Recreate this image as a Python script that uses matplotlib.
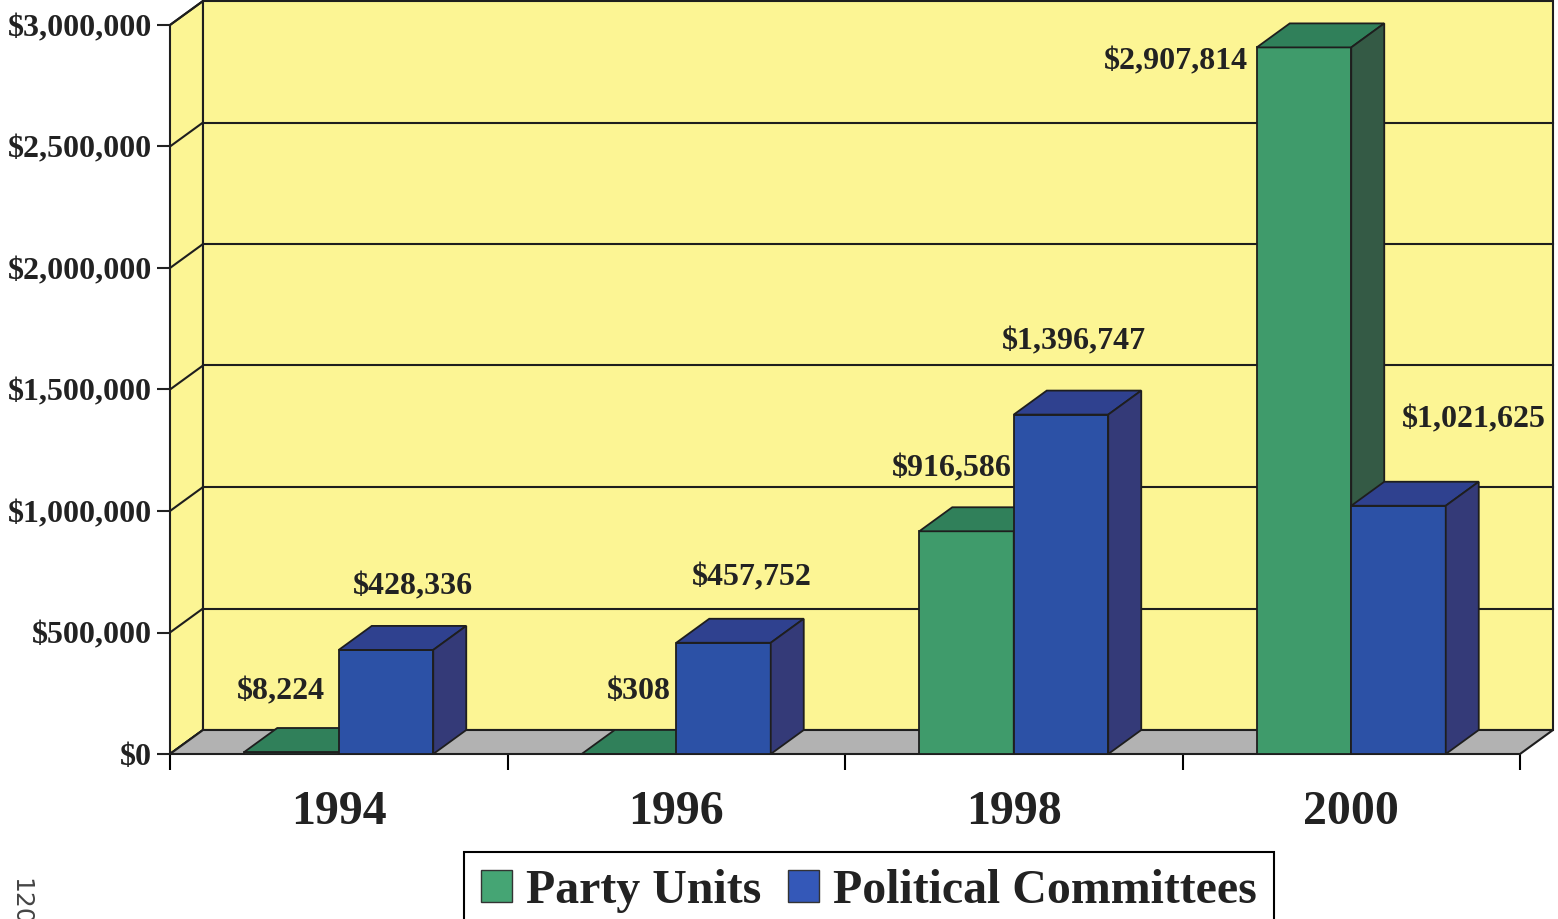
import matplotlib
matplotlib.use('Agg')
import matplotlib.pyplot as plt
from matplotlib.patches import Polygon, Patch
from matplotlib.ticker import FuncFormatter

years = ['1994', '1996', '1998', '2000']
party_units = [8224, 308, 916586, 2907814]
political_committees = [428336, 457752, 1396747, 1021625]
y_ticks = [0, 500000, 1000000, 1500000, 2000000, 2500000, 3000000]

# label nudges (pixels), Excel-style placement
party_offsets = [(-11, 60), (10, 62), (-15, 62), (-128, -15)]
committee_offsets = [(27, 63), (28, 65), (13, 73), (75, 86)]

plt.rcParams['font.family'] = ['Liberation Serif', 'DejaVu Serif']
plt.rcParams['font.weight'] = 'bold'

W, H = 1558, 919
fig = plt.figure(figsize=(W / 100, H / 100), dpi=100)
ax = fig.add_axes([170 / W, 1 - 754 / H, 1350 / W, 729 / H])
ax.set_xlim(0, 4)
ax.set_ylim(0, 3e6)
for s in ax.spines.values():
    s.set_visible(False)
ax.patch.set_visible(False)

# 3D depth offset in data units
dx = 33 / 337.5
dy = 24 * 3e6 / 729
bw = 0.28
yellow = '#fcf594'
edge = '#1e1e1e'

# side wall, back wall, floor
ax.add_patch(Polygon([(0, 0), (dx, dy), (dx, 3e6 + dy), (0, 3e6)], closed=True,
                     facecolor=yellow, edgecolor=edge, lw=1.5, clip_on=False, zorder=1))
ax.add_patch(Polygon([(dx, dy), (4 + dx, dy), (4 + dx, 3e6 + dy), (dx, 3e6 + dy)], closed=True,
                     facecolor=yellow, edgecolor=edge, lw=1.5, clip_on=False, zorder=1))
for v in y_ticks[1:-1]:
    ax.plot([dx, 4 + dx], [v + dy, v + dy], color=edge, lw=1.5, clip_on=False, zorder=2)
for v in y_ticks:
    ax.plot([0, dx], [v, v + dy], color=edge, lw=1.5, clip_on=False, zorder=2)
ax.add_patch(Polygon([(0, 0), (4, 0), (4 + dx, dy), (dx, dy)], closed=True,
                     facecolor='#b2b2b2', edgecolor=edge, lw=1.5, clip_on=False, zorder=3))


def draw_bar(x0, h, front, top, side, z):
    x1 = x0 + bw
    ax.bar(x0, h, width=bw, align='edge', color=front, edgecolor=edge, lw=1.3, zorder=z)
    ax.add_patch(Polygon([(x0, h), (x1, h), (x1 + dx, h + dy), (x0 + dx, h + dy)], closed=True,
                         facecolor=top, edgecolor=edge, lw=1.3, clip_on=False, zorder=z))
    ax.add_patch(Polygon([(x1, 0), (x1 + dx, dy), (x1 + dx, h + dy), (x1, h)], closed=True,
                         facecolor=side, edgecolor=edge, lw=1.3, clip_on=False, zorder=z))


green = ('#3f9b6b', '#30805a', '#345a45')
blue = ('#2c51a6', '#2f418f', '#343a78')

z = 4
for i in range(len(years)):
    draw_bar(i + 0.5 - bw, party_units[i], *green, z)
    draw_bar(i + 0.5, political_committees[i], *blue, z + 1)
    z += 2

lab = dict(textcoords='offset pixels', ha='center', va='center', fontsize=23,
           fontweight='bold', color='#222222', zorder=20, annotation_clip=False)
for i in range(len(years)):
    ax.annotate('${:,}'.format(party_units[i]), xy=(i + 0.5 - bw / 2, party_units[i]),
                xytext=party_offsets[i], **lab)
    ax.annotate('${:,}'.format(political_committees[i]), xy=(i + 0.5 + bw / 2, political_committees[i]),
                xytext=committee_offsets[i], **lab)

# axes ticks
ax.set_yticks(y_ticks)
ax.yaxis.set_major_formatter(FuncFormatter(lambda v, p: '${:,.0f}'.format(v)))
ax.tick_params(axis='y', length=9.5, width=1.5, pad=3.5, labelsize=23, colors='#222222')
ax.set_xticks([0, 1, 2, 3, 4])
ax.set_xticklabels([])
ax.set_xticks([0.5, 1.5, 2.5, 3.5], minor=True)
ax.set_xticklabels(years, minor=True)
ax.tick_params(axis='x', which='major', length=11.5, width=1.5, direction='out')
ax.tick_params(axis='x', which='minor', length=0, pad=26, labelsize=34.5, colors='#222222')

leg = fig.legend(handles=[Patch(facecolor='#45a574', edgecolor='#333333', label='Party Units'),
                          Patch(facecolor='#3458b8', edgecolor='#333333', label='Political Committees')],
                 loc='upper center', bbox_to_anchor=(869 / W, 1 - 852 / H), ncol=2, fontsize=34.5,
                 frameon=True, fancybox=False, edgecolor='black', framealpha=1,
                 handlelength=0.65, handleheight=0.65, handletextpad=0.3, columnspacing=0.55,
                 borderpad=0.35, borderaxespad=0)
leg.get_frame().set_linewidth(1.5)
for t in leg.get_texts():
    t.set_color('#222222')

fig.text(20 / W, 1 - 902 / H, '120', rotation=-90, fontsize=18, family='DejaVu Sans',
         fontweight='normal', color='#444444', ha='center', va='center')

fig.savefig('out.png', dpi=100)
